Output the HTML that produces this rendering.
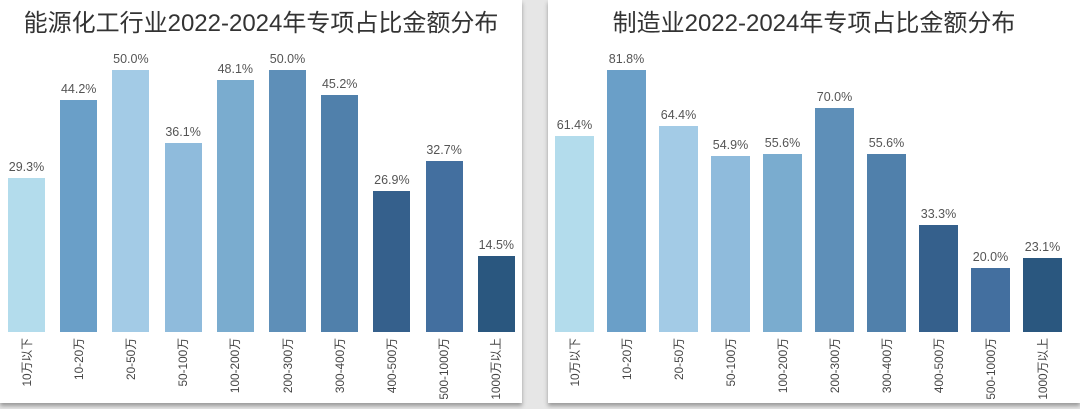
<!DOCTYPE html>
<html><head><meta charset="utf-8"><style>
body{margin:0;width:1080px;height:409px;background:#e6e6e6;overflow:hidden;font-family:"Liberation Sans","Noto Sans CJK SC",sans-serif;position:relative}
.card{position:absolute;top:0;height:403px;background:#fff;box-shadow:0 3px 4px #999}
.t{position:absolute;top:3px;width:100%;text-align:center;font-size:24px;color:#333}
.b{position:absolute}
.v{position:absolute;font-size:12.5px;color:#555;text-align:center;width:60px}
.x{position:absolute;font-size:11.8px;line-height:14px;color:#444;white-space:nowrap;top:338px;transform-origin:0 0;transform:rotate(-90deg) translate(-100%,-50%)}
</style></head><body>
<div class="card" style="left:0;width:522px"><div class="t">能源化工行业2022-2024年专项占比金额分布</div></div>
<div class="card" style="left:548px;width:532px"><div class="t">制造业2022-2024年专项占比金额分布</div></div>
<div id="c"></div>
<script>
const cols=["#b3dcec","#6a9fc8","#a3cbe6","#8fbbdc","#7aaccf","#5e8fb8","#5080ab","#35608c","#436f9f","#2a577f"];
const labs=["10万以下","10-20万","20-50万","50-100万","100-200万","200-300万","300-400万","400-500万","500-1000万","1000万以上"];
const A=[29.3,44.2,50.0,36.1,48.1,50.0,45.2,26.9,32.7,14.5],B=[61.4,81.8,64.4,54.9,55.6,70.0,55.6,33.3,20.0,23.1];
let h="";
function draw(d,x0,step,w,sc){d.forEach((v,i)=>{const x=x0+i*step,hh=v*sc,top=332-hh;
h+=`<div class="b" style="left:${x}px;top:${top}px;width:${w}px;height:${hh}px;background:${cols[i]}"></div>`;
h+=`<div class="v" style="left:${x+w/2-30}px;top:${top-18}px">${v.toFixed(1)}%</div>`;
h+=`<div class="x" style="left:${x+w/2}px">${labs[i]}</div>`;});}
draw(A,8,52.2,37,5.24);draw(B,555,52,39,3.2);
document.getElementById("c").innerHTML=h;
</script>
</body></html>
